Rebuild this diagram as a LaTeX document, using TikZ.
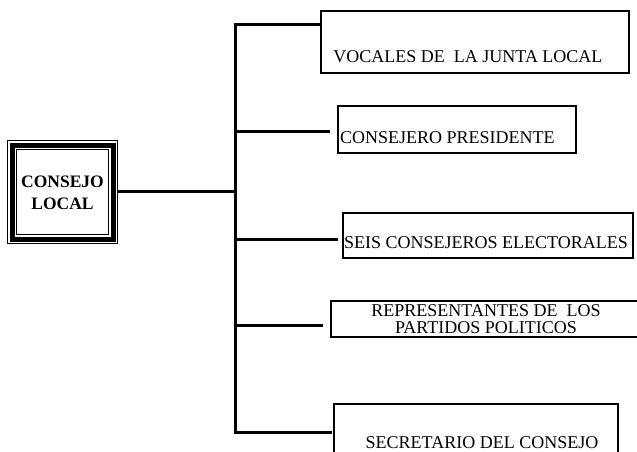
\documentclass[tikz,border=0pt]{standalone}
\usepackage{fontspec}
\setmainfont{Liberation Serif}
\begin{document}
\begin{tikzpicture}[x=1pt,y=-1pt,
  conn/.style={line width=3pt},
  boxframe/.style={draw,line width=1.6pt,rectangle,inner sep=0pt,anchor=north west},
  lbl/.style={font=\fontsize{18}{16.5}\selectfont,inner sep=0pt,align=center},
  title/.style={font=\fontsize{17.5}{22}\selectfont\bfseries,inner sep=0pt,align=center}]
\useasboundingbox (0,0) rectangle (637,452);
\clip (0,0) rectangle (637,452);
% council box
\node[draw,line width=1pt,rectangle,inner sep=0pt,minimum width=110pt,minimum height=103pt] (cl) at (62.5,192) {};
\draw[line width=5pt] ([xshift=5pt,yshift=-5pt]cl.north west) rectangle ([xshift=-5pt,yshift=5pt]cl.south east);
\draw[line width=1pt] ([xshift=9.5pt,yshift=-9.5pt]cl.north west) rectangle ([xshift=-9.5pt,yshift=9.5pt]cl.south east);
\node[title] (clt) at (62.5,193) {CONSEJO\\LOCAL};
% boxes
\node[boxframe,minimum width=308pt,minimum height=62pt] (b1) at (320,10) {};
\node[boxframe,minimum width=238pt,minimum height=47pt] (b2) at (337,105) {};
\node[boxframe,minimum width=290pt,minimum height=45pt] (b3) at (342,212) {};
\node[boxframe,minimum width=320pt,minimum height=36pt] (b4) at (330,300) {};
\node[boxframe,minimum width=284pt,minimum height=70pt] (b5) at (333,403) {};
% texts
\node[lbl] (t1) at (468,56.5) {VOCALES DE\ \ LA JUNTA LOCAL};
\node[lbl,anchor=west] (t2) at (340,138) {CONSEJERO PRESIDENTE};
\node[lbl] (t3) at (486,243) {SEIS CONSEJEROS ELECTORALES};
\node[lbl] (t4) at (486,319) {REPRESENTANTES DE\ \ LOS\\PARTIDOS POLITICOS};
\node[lbl] (t5) at (482,443) {SECRETARIO DEL CONSEJO};
% trunk
\coordinate (j) at (235,191);
\coordinate (p1) at (235,25);
\coordinate (p2) at (235,131);
\coordinate (p3) at (235,239);
\coordinate (p4) at (235,325);
\coordinate (p5) at (235,432);
\draw[conn] (cl.east |- j) -- (j);
\draw[conn] (p1 -| b1.west) -- (p1) -- (p5) -- ([xshift=-1pt]p5 -| b5.west);
\draw[conn] (p2) -- ([xshift=-7pt]p2 -| b2.west);
\draw[conn] (p3) -- ([xshift=-4pt]p3 -| b3.west);
\draw[conn] (p4) -- ([xshift=-7pt]p4 -| b4.west);
\end{tikzpicture}
\end{document}
